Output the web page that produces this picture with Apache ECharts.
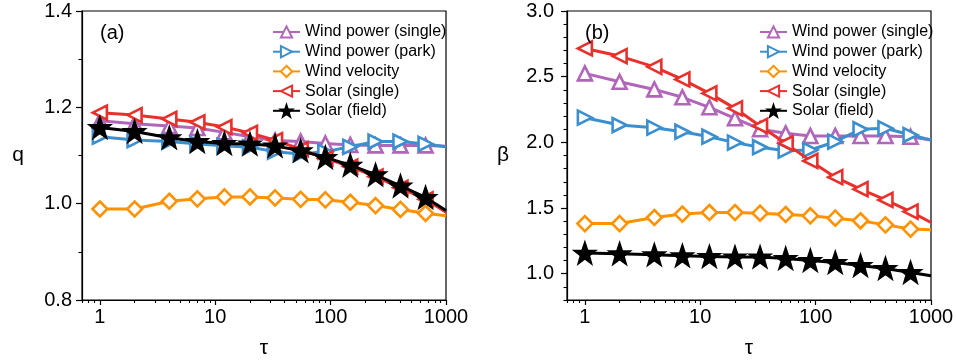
<!DOCTYPE html>
<html>
<head>
<meta charset="utf-8">
<script src="https://cdn.jsdelivr.net/npm/echarts@6/dist/echarts.min.js"></script>
<style>
  html, body { margin: 0; padding: 0; background: #fff; }
  #chart { width: 956px; height: 362px; }
</style>
</head>
<body>
<div id="chart"></div>
<script>
// Aggregation scale tau; the final entry is where each curve runs to the frame edge.
const tau = [1, 2, 4, 7, 12, 20, 33, 55, 90, 148, 245, 403, 665, 1000];

// Panel (a): q
const qWindSingle  = [1.172, 1.166, 1.161, 1.157, 1.148, 1.139, 1.131, 1.129, 1.125, 1.122, 1.121, 1.121, 1.121, 1.119];
const qWindPark    = [1.139, 1.132, 1.129, 1.124, 1.120, 1.117, 1.108, 1.103, 1.108, 1.118, 1.129, 1.129, 1.124, 1.118];
const qWindVel     = [0.989, 0.989, 1.005, 1.010, 1.014, 1.014, 1.012, 1.009, 1.008, 1.003, 0.996, 0.988, 0.980, 0.975];
const qSolarSingle = [1.189, 1.184, 1.176, 1.169, 1.159, 1.147, 1.132, 1.113, 1.094, 1.077, 1.056, 1.033, 1.009, 0.982];
const qSolarField  = [1.158, 1.150, 1.137, 1.129, 1.125, 1.124, 1.120, 1.110, 1.096, 1.080, 1.060, 1.037, 1.013, 0.986];

// Panel (b): beta
const bWindSingle  = [2.525, 2.461, 2.403, 2.343, 2.267, 2.183, 2.100, 2.069, 2.049, 2.049, 2.049, 2.049, 2.043, 2.018];
const bWindPark    = [2.188, 2.132, 2.112, 2.081, 2.043, 1.998, 1.963, 1.937, 1.942, 2.005, 2.100, 2.107, 2.056, 2.018];
const bWindVel     = [1.382, 1.382, 1.428, 1.454, 1.466, 1.466, 1.461, 1.451, 1.441, 1.423, 1.403, 1.372, 1.340, 1.334];
const bSolarSingle = [2.715, 2.657, 2.575, 2.479, 2.373, 2.259, 2.125, 1.993, 1.859, 1.735, 1.644, 1.562, 1.473, 1.390];
const bSolarField  = [1.157, 1.152, 1.144, 1.137, 1.131, 1.127, 1.127, 1.116, 1.101, 1.086, 1.063, 1.040, 1.010, 0.985];

const seriesNames = ['Wind power (single)', 'Wind power (park)', 'Wind velocity', 'Solar (single)', 'Solar (field)'];

// Tick positions
const xMajorTicks = [1, 10, 100, 1000];
const xMinorTicks = [0.7, 0.8, 0.9, 2, 3, 4, 5, 6, 7, 8, 9, 20, 30, 40, 50, 60, 70, 80, 90,
                     200, 300, 400, 500, 600, 700, 800, 900];
const qMajorTicks = [0.8, 1.0, 1.2, 1.4];
const qMinorTicks = [0.9, 1.1, 1.3];
const bMajorTicks = [1.0, 1.5, 2.0, 2.5, 3.0];
const bMinorTicks = [0.8, 0.9, 1.1, 1.2, 1.3, 1.4, 1.6, 1.7, 1.8, 1.9, 2.1, 2.2, 2.3, 2.4, 2.6, 2.7, 2.8, 2.9];

const FONT = '"Liberation Sans", Arial, Helvetica, sans-serif';
const STAR = 'path://M50 0 L61.76 33.82 L97.55 34.55 L69.02 56.18 L79.39 90.45 L50 70 L20.61 90.45 L30.98 56.18 L2.45 34.55 L38.24 33.82 Z';

const styles = [
  { color: '#b166b9', symbol: 'triangle', size: 14, rotate: 0,   fill: '#fff' },
  { color: '#3c8fcf', symbol: 'triangle', size: 14, rotate: -90, fill: '#fff' },
  { color: '#ff9200', symbol: 'diamond',  size: 15, rotate: 0,   fill: '#fff' },
  { color: '#e8302c', symbol: 'triangle', size: 14, rotate: 90,  fill: '#fff' },
  { color: '#000000', symbol: STAR,       size: 19, rotate: 0,   fill: '#000' }
];

function pairs(values) {
  return tau.map((t, i) => {
    const item = { value: [t, values[i]] };
    if (i === tau.length - 1) item.symbol = 'none';
    return item;
  });
}

function makeSeries(valueSets, axisIndex) {
  return valueSets.map((vals, k) => {
    const s = styles[k];
    return {
      name: seriesNames[k],
      type: 'line',
      xAxisIndex: axisIndex,
      yAxisIndex: axisIndex,
      data: pairs(vals),
      symbol: s.symbol,
      symbolSize: s.size,
      symbolRotate: s.rotate,
      showAllSymbol: true,
      lineStyle: { color: s.color, width: 3 },
      itemStyle: { color: s.fill, borderColor: s.color, borderWidth: 2.6, opacity: 1 },
      emphasis: { disabled: true },
      animation: false,
      z: 2 + k
    };
  });
}

function xAxes(gridIndex) {
  const common = {
    type: 'log', logBase: 10, gridIndex, min: 0.7, max: 1000, position: 'bottom',
    splitLine: { show: false }, minorTick: { show: false }
  };
  return [
    Object.assign({}, common, {
      axisLine: { show: true, onZero: false, lineStyle: { color: '#000', width: 1.2 } },
      axisTick: { show: true, length: 5, lineStyle: { color: '#000', width: 1.2 }, customValues: xMajorTicks },
      axisLabel: { show: true, customValues: xMajorTicks, margin: 7, color: '#000', fontSize: 20, fontFamily: FONT,
                   formatter: v => String(Math.round(v)) },
      name: 'τ', nameLocation: 'middle', nameGap: 38,
      nameTextStyle: { color: '#000', fontSize: 21, fontFamily: FONT }
    }),
    Object.assign({}, common, {
      axisLine: { show: false, onZero: false },
      axisTick: { show: true, length: 3, lineStyle: { color: '#000', width: 1.1 }, customValues: xMinorTicks },
      axisLabel: { show: false }
    })
  ];
}

function yAxes(gridIndex, min, max, major, minor, name, margin) {
  const common = { type: 'value', gridIndex, min, max, position: 'left', splitLine: { show: false } };
  return [
    Object.assign({}, common, {
      axisLine: { show: true, onZero: false, lineStyle: { color: '#000', width: 1.2 } },
      axisTick: { show: true, length: 6, lineStyle: { color: '#000', width: 1.2 }, customValues: major },
      axisLabel: { show: true, customValues: major, margin, color: '#000', fontSize: 20, fontFamily: FONT,
                   formatter: v => v.toFixed(1) },
      name, nameLocation: 'middle', nameRotate: 0, nameGap: 58,
      nameTextStyle: { color: '#000', fontSize: 21, fontFamily: FONT }
    }),
    Object.assign({}, common, {
      axisLine: { show: false, onZero: false },
      axisTick: { show: true, length: 3.5, lineStyle: { color: '#000', width: 1.1 }, customValues: minor },
      axisLabel: { show: false }
    })
  ];
}

function legend(left) {
  return {
    data: seriesNames, orient: 'vertical', left, top: 19,
    itemWidth: 27, itemHeight: 14, itemGap: 3.7,
    textStyle: { color: '#000', fontSize: 16, fontFamily: FONT },
    selectedMode: false
  };
}

const chart = echarts.init(document.getElementById('chart'), null, { renderer: 'canvas' });

const xa = xAxes(0), xb = xAxes(1);
const ya = yAxes(0, 0.8, 1.4, qMajorTicks, qMinorTicks, 'q', 10);
const yb = yAxes(1, 0.8, 3.0, bMajorTicks, bMinorTicks, 'β', 13);

// each panel's series use its labelled axes; the companion axes only carry the short ticks
const seriesA = makeSeries([qWindSingle, qWindPark, qWindVel, qSolarSingle, qSolarField], 0);
const seriesB = makeSeries([bWindSingle, bWindPark, bWindVel, bSolarSingle, bSolarField], 2);

const gridBase = {
  top: 11, bottom: 62, show: true, borderColor: '#000', borderWidth: 1.2,
  backgroundColor: 'transparent', containLabel: false, outerBoundsMode: 'none'
};

chart.setOption({
  backgroundColor: '#fff',
  animation: false,
  title: [
    { text: '(a)', left: 95, top: 18, textStyle: { fontSize: 20, fontWeight: 'normal', color: '#000', fontFamily: FONT } },
    { text: '(b)', left: 580, top: 18, textStyle: { fontSize: 20, fontWeight: 'normal', color: '#000', fontFamily: FONT } }
  ],
  grid: [
    Object.assign({ left: 82, right: 510 }, gridBase),
    Object.assign({ left: 567, right: 25 }, gridBase)
  ],
  legend: [legend(267), legend(754)],
  xAxis: [xa[0], xa[1], xb[0], xb[1]],
  yAxis: [ya[0], ya[1], yb[0], yb[1]],
  series: seriesA.concat(seriesB)
});
</script>
</body>
</html>
